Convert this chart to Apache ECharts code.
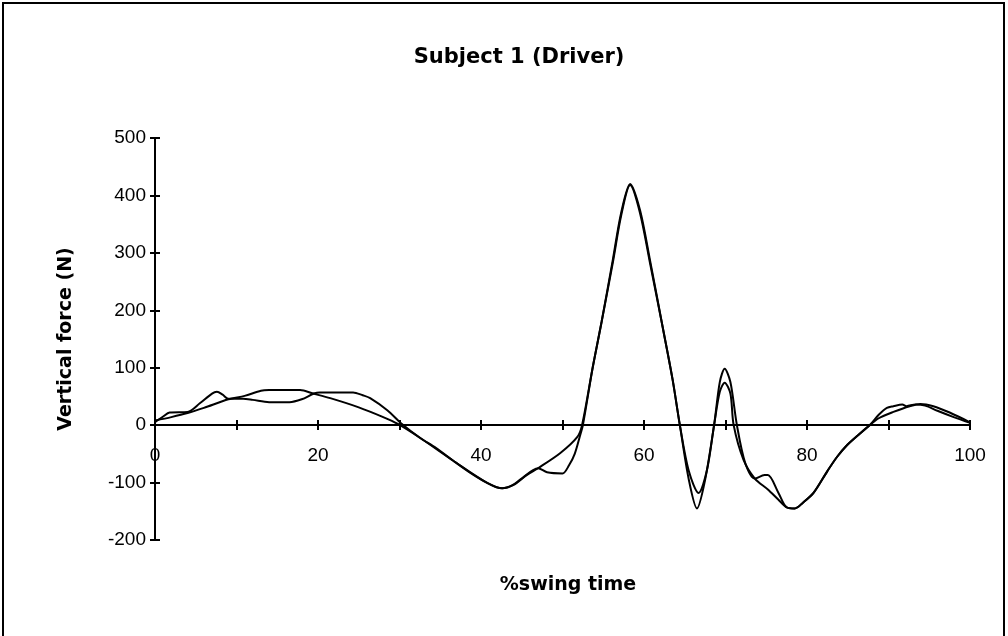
<!DOCTYPE html>
<html><head><meta charset="utf-8">
<script src="https://cdn.jsdelivr.net/npm/echarts@6/dist/echarts.min.js"></script>
<style>html,body{margin:0;padding:0;background:#fff}#c{width:1008px;height:636px}</style>
</head><body><div id="c"></div>
<script>
const titleText = 'Subject 1 (Driver)';
const xName = '%swing time';
const yName = 'Vertical force (N)';
const yTicks = [-200, -100, 0, 100, 200, 300, 400, 500];
const xTicks = [0, 20, 40, 60, 80, 100];

const xA = [0,1,1.8,4,5.5,7,7.6,8.3,9,10.8,12,14,16.5,18,19.5,20.2,24.3,25.5,26.4,28.5,30.3,32.5,34.5,36.6,38.7,40.7,42.6,43.8,44.8,47,48.1,50,50.8,51.5,52.1,52.5,53.7,54.8,56.2,57.2,58.3,59.5,60.7,62.3,63.5,64.4,65.5,66.5,67.5,68.6,69.3,69.9,70.6,71.4,72.4,73.6,74.8,75.2,76.5,77.5,78.5,79.5,80.8,82.5,83.7,84.9,86.3,87.7,88.8,89.8,90.6,91.7,92.2,93.3,94.5,96,98,100];
const yA = [5,15,22,23,38,55,58,53,46,46,44,40,40,45,55,57,57,52,47,26,2,-22,-40,-62,-83,-100,-110,-105,-95,-75,-82,-84,-70,-50,-21,0,100,180,290,370,420,375,290,170,80,0,-95,-145,-95,0,75,98,75,0,-65,-93,-87,-87,-118,-143,-145,-135,-118,-80,-55,-35,-17,0,18,30,33,36,33,36,34,25,14,4];

const xB = [0,2,4,6,9,11,13,14,17.8,19.4,21.5,25,28,29.8,32.5,36.6,40.7,42.6,44,45.6,47,49.7,51.8,52.4,53.7,54.8,56.2,57.2,58.3,59.5,60.7,62.3,63.5,64.4,65.5,66.7,67.7,68.6,69.3,69.9,70.6,71,72.2,73.6,75.2,76.5,77.5,78.5,79.5,80.8,82.5,83.7,84.9,86.3,87.7,88.8,90.6,92.6,93.9,95.5,97.5,100];
const yB = [8,14,21,30,45,51,60,61,61,55,47,31,14,2,-22,-62,-100,-110,-104,-87,-75,-49,-21,0,100,180,285,365,418,370,285,170,80,0,-80,-118,-80,0,58,74,55,0,-60,-93,-112,-130,-143,-145,-135,-118,-80,-55,-35,-17,0,12,23,33,37,33,22,5];

const seriesA = xA.map((x, i) => [x, yA[i]]);
const seriesB = xB.map((x, i) => [x, yB[i]]);

const font = 'Liberation Sans, Arial, sans-serif';
const boldFont = 'DejaVu Sans, Verdana, sans-serif';
const chart = echarts.init(document.getElementById('c'), null, {renderer: 'canvas'});

// grid geometry: zero line offset from bottom edge, in pixels
const gridTop = 138, gridBottomPx = 540;
const yMin = -200, yMax = 500;
const zeroOffset = -Math.round((0 - yMin) / (yMax - yMin) * (gridBottomPx - gridTop));

chart.setOption({
  animation: false,
  backgroundColor: '#fff',
  title: [
    {text: titleText, left: 514, top: 42, textAlign: 'center',
     textStyle: {fontSize: 21, fontWeight: 'bold', color: '#000', fontFamily: boldFont}},
    {text: xName, left: 563, top: 571, textAlign: 'center',
     textStyle: {fontSize: 19, fontWeight: 'bold', color: '#000', fontFamily: boldFont}}
  ],
  grid: {left: 155, right: 38, top: gridTop, bottom: 636 - gridBottomPx, containLabel: false},
  xAxis: [
    {type: 'value', min: 0, max: 100, interval: 10, position: 'bottom', offset: zeroOffset,
     axisLine: {show: true, onZero: false, lineStyle: {color: '#000', width: 2}},
     axisTick: {show: true, inside: false, length: 5, lineStyle: {color: '#000', width: 2}},
     axisLabel: {show: true, margin: 21, color: '#000', fontSize: 19, fontFamily: font,
       formatter: v => xTicks.includes(v) ? String(v) : ''},
     splitLine: {show: false}},
    {type: 'value', min: 0, max: 100, interval: 10, position: 'bottom', offset: zeroOffset,
     axisLine: {show: false, onZero: false},
     axisTick: {show: true, inside: true, length: 5, lineStyle: {color: '#000', width: 2}},
     axisLabel: {show: false}, splitLine: {show: false}}
  ],
  yAxis: [
    {type: 'value', min: yMin, max: yMax, interval: 100, position: 'left',
     axisLine: {show: true, onZero: false, lineStyle: {color: '#000', width: 2}},
     axisTick: {show: true, inside: false, length: 5, lineStyle: {color: '#000', width: 2}},
     axisLabel: {show: true, margin: 9, color: '#000', fontSize: 19, fontFamily: font,
       formatter: v => yTicks.includes(v) ? String(v) : ''},
     name: yName, nameLocation: 'middle', nameGap: 79,
     nameTextStyle: {color: '#000', fontSize: 19, fontWeight: 'bold', fontFamily: boldFont},
     splitLine: {show: false}},
    {type: 'value', min: yMin, max: yMax, interval: 100, position: 'left',
     axisLine: {show: false, onZero: false},
     axisTick: {show: true, inside: true, length: 5, lineStyle: {color: '#000', width: 2}},
     axisLabel: {show: false}, splitLine: {show: false}}
  ],
  graphic: [{
    type: 'polyline', silent: true,
    shape: {points: [[3, 636], [3, 3], [1004, 3], [1004, 636]]},
    style: {stroke: '#000', lineWidth: 2, fill: null}
  }],
  series: [
    {type: 'line', data: seriesA, showSymbol: false, smooth: 0.3, xAxisIndex: 0, yAxisIndex: 0,
     lineStyle: {color: '#000', width: 2}},
    {type: 'line', data: seriesB, showSymbol: false, smooth: 0.3, xAxisIndex: 0, yAxisIndex: 0,
     lineStyle: {color: '#000', width: 2}}
  ]
});
</script></body></html>
